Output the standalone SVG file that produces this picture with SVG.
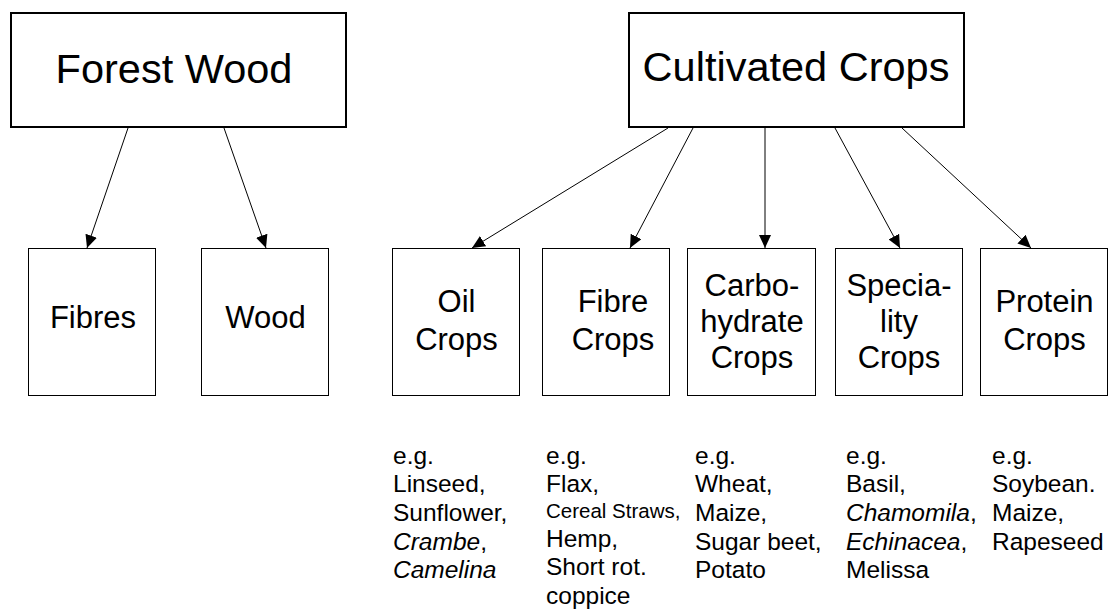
<svg xmlns="http://www.w3.org/2000/svg" width="1109" height="610" viewBox="0 0 1109 610">
<style>
text{font-family:"Liberation Sans",Arial,sans-serif;fill:#000}
.top{fill:#fff;stroke:#000;stroke-width:2}
.box{fill:#fff;stroke:#000;stroke-width:1}
.t1{font-size:41.5px;text-anchor:middle}
.t2{font-size:31px;text-anchor:middle}
.eg{font-size:24.5px}
.sm{font-size:20.5px}
.conn line{stroke:#000;stroke-width:1;marker-end:url(#ah)}
</style>
<defs>
<marker id="ah" markerUnits="userSpaceOnUse" markerWidth="13" markerHeight="12" refX="13" refY="6" orient="auto" viewBox="0 0 13 12">
<path d="M0,0 L13,6 L0,12 z" fill="#000"/>
</marker>
</defs>
<g id="forest-wood"><rect class="top" x="11" y="13" width="335" height="114"/><text class="t1" x="174" y="83">Forest Wood</text></g>
<g id="cultivated-crops"><rect class="top" x="629" y="13" width="335" height="114"/><text class="t1" x="796" y="81">Cultivated Crops</text></g>
<g id="fibres"><rect class="box" x="28.5" y="248.5" width="127" height="147"/><text class="t2" x="93" y="328">Fibres</text></g>
<g id="wood"><rect class="box" x="201.5" y="248.5" width="127" height="147"/><text class="t2" x="265.5" y="328">Wood</text></g>
<g id="oil-crops"><rect class="box" x="392.5" y="248.5" width="127" height="147"/><text class="t2" x="456.5" y="312">Oil</text><text class="t2" x="456.5" y="350">Crops</text></g>
<g id="fibre-crops"><rect class="box" x="542.5" y="248.5" width="127" height="147"/><text class="t2" x="613" y="312">Fibre</text><text class="t2" x="613" y="350">Crops</text></g>
<g id="carbohydrate-crops"><rect class="box" x="687.5" y="248.5" width="128" height="147"/><text class="t2" x="752" y="296">Carbo-</text><text class="t2" x="752" y="332">hydrate</text><text class="t2" x="752" y="368">Crops</text></g>
<g id="speciality-crops"><rect class="box" x="835.5" y="248.5" width="127" height="147"/><text class="t2" x="899" y="296">Specia-</text><text class="t2" x="899" y="332">lity</text><text class="t2" x="899" y="368">Crops</text></g>
<g id="protein-crops"><rect class="box" x="980.5" y="248.5" width="127" height="147"/><text class="t2" x="1044.5" y="312">Protein</text><text class="t2" x="1044.5" y="350">Crops</text></g>
<g id="connectors" class="conn">
<line x1="128" y1="128" x2="87" y2="248"/>
<line x1="224" y1="128" x2="266" y2="248"/>
<line x1="668" y1="128" x2="472" y2="248"/>
<line x1="693" y1="128" x2="630" y2="248"/>
<line x1="765" y1="128" x2="765" y2="248"/>
<line x1="835" y1="128" x2="900" y2="248"/>
<line x1="902" y1="128" x2="1031" y2="248"/>
</g>
<g id="examples">
<text class="eg" x="393" y="463.5">e.g.</text>
<text class="eg" x="393" y="492.2">Linseed,</text>
<text class="eg" x="393" y="520.9">Sunflower,</text>
<text class="eg" x="393" y="549.6"><tspan font-style="italic">Crambe</tspan>,</text>
<text class="eg" x="393" y="578.3" font-style="italic">Camelina</text>
<text class="eg" x="546" y="463.5">e.g.</text>
<text class="eg" x="546" y="492.2">Flax,</text>
<text class="sm" x="546" y="518">Cereal Straws,</text>
<text class="eg" x="546" y="546.5">Hemp,</text>
<text class="eg" x="546" y="575.3">Short rot.</text>
<text class="eg" x="546" y="604">coppice</text>
<text class="eg" x="695" y="463.5">e.g.</text>
<text class="eg" x="695" y="492.2">Wheat,</text>
<text class="eg" x="695" y="520.9">Maize,</text>
<text class="eg" x="695" y="549.6">Sugar beet,</text>
<text class="eg" x="695" y="578.3">Potato</text>
<text class="eg" x="846" y="463.5">e.g.</text>
<text class="eg" x="846" y="492.2">Basil,</text>
<text class="eg" x="846" y="520.9"><tspan font-style="italic">Chamomila</tspan>,</text>
<text class="eg" x="846" y="549.6"><tspan font-style="italic">Echinacea</tspan>,</text>
<text class="eg" x="846" y="578.3">Melissa</text>
<text class="eg" x="992" y="463.5">e.g.</text>
<text class="eg" x="992" y="492.2">Soybean.</text>
<text class="eg" x="992" y="520.9">Maize,</text>
<text class="eg" x="992" y="549.6">Rapeseed</text>
</g>
</svg>
